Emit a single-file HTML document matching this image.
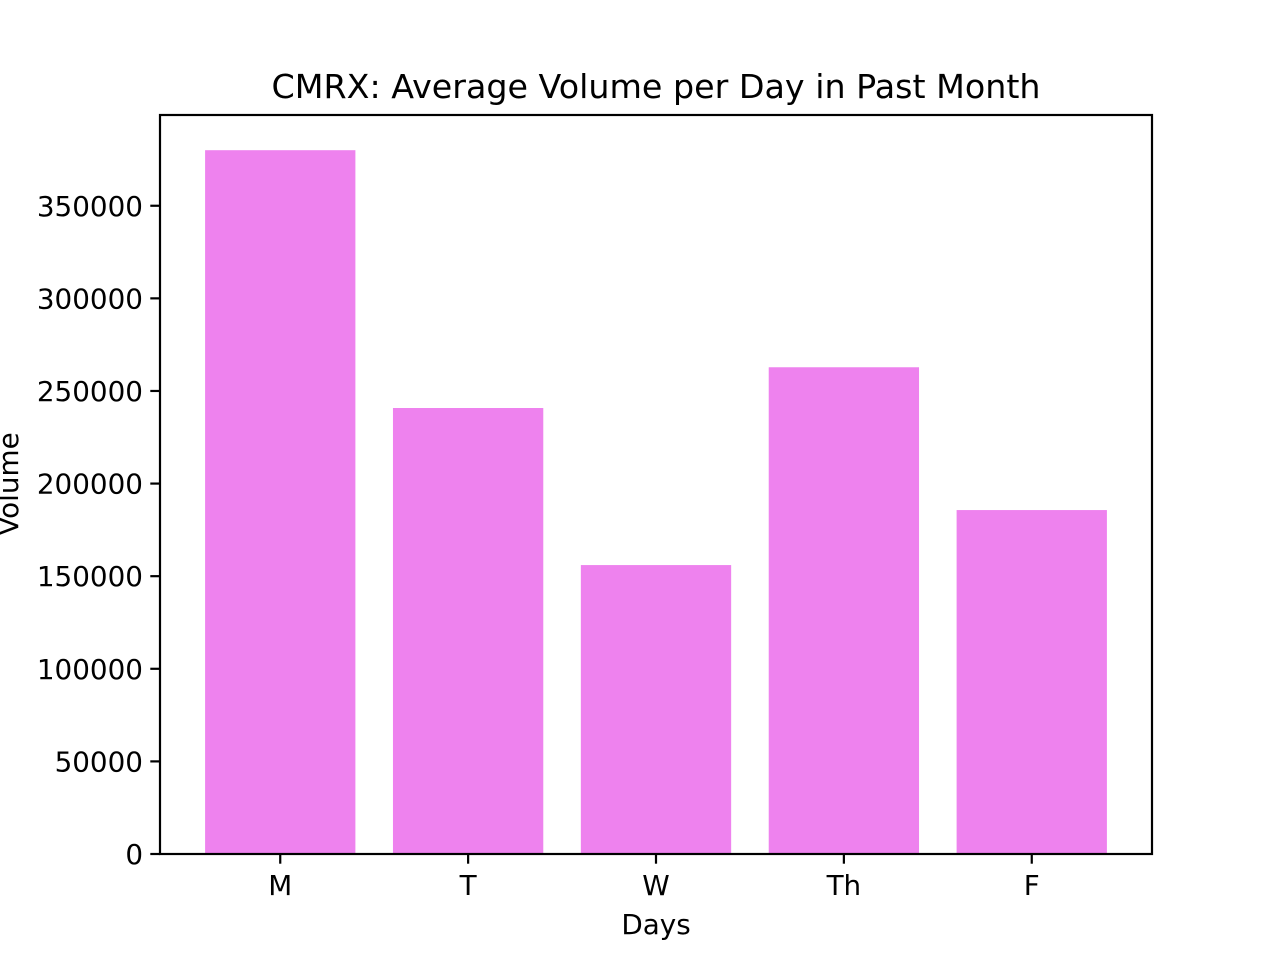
<!DOCTYPE html>
<html><head><meta charset="utf-8"><style>
html,body{margin:0;padding:0;background:#fff;}
svg text{font-family:"DejaVu Sans","Liberation Sans",sans-serif;fill:#000;}
</style></head><body>
<svg id="chart" width="1280" height="960" xmlns="http://www.w3.org/2000/svg">
<rect width="1280" height="960" fill="#fff"/>
<g id="bars"></g>
<g id="yaxis"></g>
<g id="xaxis"></g>
<rect x="160" y="115" width="992" height="739" fill="none" stroke="#000" stroke-width="2.2"/>
<text x="656" y="98" font-size="33.3" text-anchor="middle">CMRX: Average Volume per Day in Past Month</text>
<text x="656" y="934" font-size="27.8" text-anchor="middle">Days</text>
<text x="18" y="484" font-size="27.8" text-anchor="middle" transform="rotate(-90 18 484)">Volume</text>
</svg>
<script>
const categories = ["M","T","W","Th","F"];
const volumes = [380000, 240800, 156000, 262800, 185700];
const yTicks = [0,50000,100000,150000,200000,250000,300000,350000];

const L=160,R=1152,T=115,B=854;
const ymax=Math.max(...volumes)*1.05;
const y=v=>B-(v/ymax)*(B-T);
const xmin=-0.64,xmax=categories.length-1+0.64;
const x=i=>L+(i-xmin)/(xmax-xmin)*(R-L);
const ns="http://www.w3.org/2000/svg";
function mk(tag,attrs,parent){const e=document.createElementNS(ns,tag);for(const k in attrs)e.setAttribute(k,attrs[k]);parent.appendChild(e);return e;}
const bars=document.getElementById('bars'),ya=document.getElementById('yaxis'),xa=document.getElementById('xaxis');
const bw=(x(0.8)-x(0));
volumes.forEach((v,i)=>{
  const r=mk('rect',{x:x(i)-bw/2,y:y(v),width:bw,height:B-y(v),fill:'#EE82EE'},bars);
  
  
  const t=mk('line',{x1:x(i),x2:x(i),y1:B,y2:B+9.7,stroke:'#000','stroke-width':2.2},xa);
  
  
  const lb=mk('text',{x:x(i),y:B+41,'font-size':27.8,'text-anchor':'middle'},xa);
  lb.textContent=categories[i];
  
  
});
yTicks.forEach(v=>{
  const t=mk('line',{x1:L-9.7,x2:L,y1:y(v),y2:y(v),stroke:'#000','stroke-width':2.2},ya);
  
  
  const lb=mk('text',{x:L-17,y:y(v)+10,'font-size':27.8,'text-anchor':'end'},ya);
  lb.textContent=String(v);
  
  
});
</script>
</body></html>
